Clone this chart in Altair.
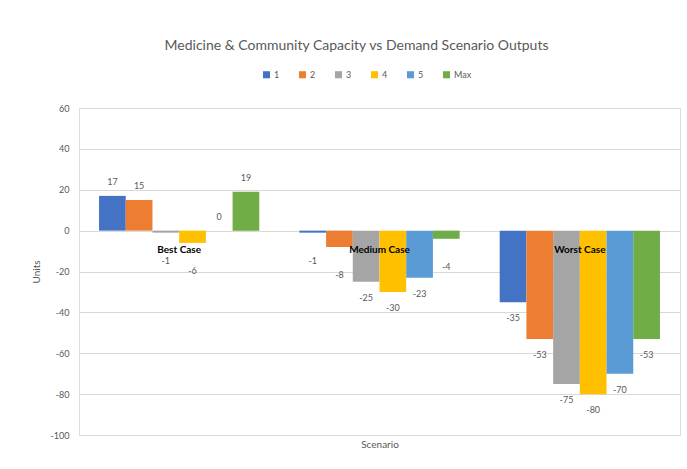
import altair as alt
import pandas as pd

categories = ["Best Case", "Medium Case", "Worst Case"]
series = ["1", "2", "3", "4", "5", "Max"]
s1 = [17, -1, -35]
s2 = [15, -8, -53]
s3 = [-1, -25, -75]
s4 = [-6, -30, -80]
s5 = [0, -23, -70]
s6 = [19, -4, -53]
colors = ["#4472C4", "#ED7D31", "#A5A5A5", "#FFC000", "#5B9BD5", "#70AD47"]

rows = []
for name, vals in zip(series, [s1, s2, s3, s4, s5, s6]):
    for c, v in zip(categories, vals):
        rows.append({"Scenario": c, "Series": name, "Value": v})
df = pd.DataFrame(rows)
cat_df = pd.DataFrame({"Scenario": categories})

FONT = "Lato"
GREY = "#595959"

xenc = alt.X("Scenario:N", sort=categories,
             scale=alt.Scale(paddingInner=0.2, paddingOuter=0.1),
             axis=alt.Axis(labels=False, ticks=False, domain=False, title="Scenario",
                           titlePadding=4, titleFontSize=10, titleColor=GREY,
                           titleFontWeight="normal", titleFont=FONT))
yenc = alt.Y("Value:Q",
             scale=alt.Scale(domain=[-100, 60], nice=False),
             axis=alt.Axis(values=list(range(-100, 61, 20)), title="Units",
                           labelExpr="'' + datum.value",
                           labelFontSize=9, labelColor=GREY, labelFont=FONT,
                           labelPadding=10, titlePadding=8, titleFontSize=10,
                           titleColor=GREY, titleFontWeight="normal", titleFont=FONT,
                           domain=False, ticks=False, gridColor="#D9D9D9"))
xoff = alt.XOffset("Series:N", sort=series, scale=alt.Scale(paddingInner=0, paddingOuter=0))

base = alt.Chart(df).transform_calculate(lab="'' + datum.Value")

bars = base.mark_bar().encode(
    x=xenc, y=yenc, xOffset=xoff,
    color=alt.Color("Series:N", sort=series,
                    scale=alt.Scale(domain=series, range=colors),
                    legend=alt.Legend(orient="none", legendX=183, legendY=-38,
                                      direction="horizontal", title=None,
                                      symbolType="square", symbolSize=50,
                                      symbolStrokeWidth=0, labelFontSize=9,
                                      labelColor=GREY, labelFont=FONT,
                                      columnPadding=18, labelOffset=3)),
)

pos_labels = base.transform_filter(alt.datum.Value >= 0).mark_text(
    fontSize=9, color=GREY, font=FONT, baseline="middle", dy=-14
).encode(x=alt.X("Scenario:N", sort=categories), y="Value:Q", xOffset=xoff,
         text="lab:N")

neg_labels = base.transform_filter(alt.datum.Value <= -12).mark_text(
    fontSize=9, color=GREY, font=FONT, baseline="middle", dy=16
).encode(x=alt.X("Scenario:N", sort=categories), y="Value:Q", xOffset=xoff,
         text="lab:N")

small_neg_labels = base.transform_filter(
    (alt.datum.Value < 0) & (alt.datum.Value > -12)
).mark_text(
    fontSize=9, color=GREY, font=FONT, baseline="middle", dy=28
).encode(x=alt.X("Scenario:N", sort=categories), y="Value:Q", xOffset=xoff,
         text="lab:N")

cat_labels = alt.Chart(cat_df).mark_text(
    fontSize=10, fontWeight="bold", color="#000000", font=FONT, baseline="middle", dy=19
).encode(x=alt.X("Scenario:N", sort=categories), y=alt.datum(0), text="Scenario:N")

chart = alt.layer(bars, pos_labels, neg_labels, small_neg_labels, cat_labels).properties(
    width=601, height=327,
    title=alt.TitleParams("Medicine & Community Capacity vs Demand Scenario Outputs",
                          fontSize=14, fontWeight="normal", color=GREY, font=FONT,
                          anchor="middle", dx=-23, offset=17),
    autosize=alt.AutoSizeParams(type="none"),
    padding={"left": 79, "top": 108, "right": 7, "bottom": 34},
).configure_view(stroke=None).configure(background="white")

chart.save("out.html", embed_options={"renderer": "svg", "actions": False})
